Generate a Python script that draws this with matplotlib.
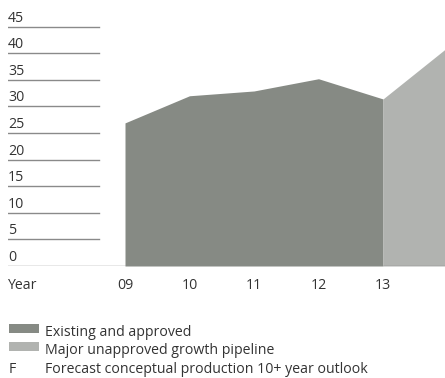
import matplotlib
matplotlib.use('Agg')
import matplotlib.pyplot as plt
from matplotlib.patches import Rectangle

# Production data (existing vs pipeline), units as shown on the axis
years = ['09', '10', '11', '12', '13', 'F']
existing = [26.9, 32.0, 32.9, 35.2, 31.4]
pipeline_years = ['13', 'F']
pipeline = [31.4, 41.1]
yticks = [0, 5, 10, 15, 20, 25, 30, 35, 40, 45]

dark = '#868a84'
light = '#b1b3b0'
grid_c = '#8a8a8a'
text_c = '#333333'
fs = 10.2

plt.rcParams['font.family'] = ['Open Sans', 'DejaVu Sans']

W, H = 445, 378
fig = plt.figure(figsize=(W / 100, H / 100), dpi=100)

# axes: left edge x=8px, bottom y=266px (from top), top y=10px
ax_l, ax_r = 8, 445
ax_b, ax_t = 266, 10
ax = fig.add_axes([ax_l / W, 1 - ax_b / H, (ax_r - ax_l) / W, (ax_b - ax_t) / H])

step = 64.5
x0 = 125
xpos = {y: i for i, y in enumerate(years)}
ax.set_xlim((ax_l - x0) / step, (ax_r - x0) / step)
ax.set_ylim(0, (ax_b - ax_t) / (26.6 / 5))

xe = [xpos[y] for y in years[:len(existing)]]
ax.fill_between(xe, existing, 0, color=dark, linewidth=0)
xp = [xpos[y] for y in pipeline_years]
ax.fill_between(xp, pipeline, 0, color=light, linewidth=0)

# short gridlines with labels sitting on top
frac = (99 - ax_l) / (ax_r - ax_l)
for v in yticks:
    if v == 0:
        ax.axhline(0, color=grid_c, linewidth=1.0, zorder=3)
    else:
        ax.axhline(v, xmin=0, xmax=frac, color=grid_c, linewidth=1.0)
    ax.text(0, v + 0.2, str(v), transform=ax.get_yaxis_transform(),
            ha='left', va='bottom', fontsize=fs, color=text_c)

ax.axis('off')

# year labels
fig.text(8 / W, 1 - 289 / H, 'Year', ha='left', va='baseline', fontsize=fs, color=text_c)
for y in years:
    px = x0 + step * xpos[y]
    fig.text(px / W, 1 - 289 / H, y, ha='center', va='baseline', fontsize=fs, color=text_c)

# legend
fig.patches.append(Rectangle((9 / W, 1 - 333 / H), 30 / W, 9 / H, transform=fig.transFigure,
                             color=dark, linewidth=0))
fig.patches.append(Rectangle((9 / W, 1 - 351 / H), 30 / W, 9 / H, transform=fig.transFigure,
                             color=light, linewidth=0))
fig.text(45 / W, 1 - 336.5 / H, 'Existing and approved', ha='left', va='baseline',
         fontsize=fs, color=text_c)
fig.text(45 / W, 1 - 354.5 / H, 'Major unapproved growth pipeline', ha='left', va='baseline',
         fontsize=fs, color=text_c)
fig.text(9 / W, 1 - 373 / H, 'F', ha='left', va='baseline', fontsize=fs, color=text_c)
fig.text(45 / W, 1 - 373 / H, 'Forecast conceptual production 10+ year outlook', ha='left',
         va='baseline', fontsize=fs, color=text_c)

fig.savefig('out.png', dpi=100)
